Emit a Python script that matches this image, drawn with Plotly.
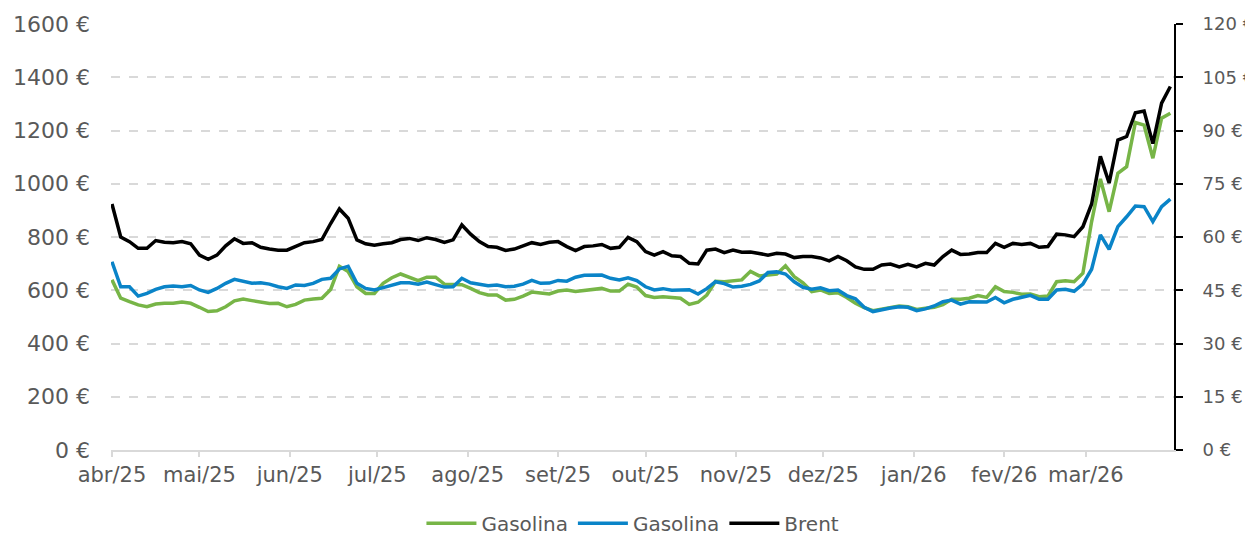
import pandas as pd
import plotly.graph_objects as go

# x categories: sampled dates (every 3 days from 1 Apr 2025)
dates = pd.date_range("2025-04-01", periods=122, freq="3D")

month_ticks = ["2025-04-01", "2025-05-01", "2025-06-01", "2025-07-01", "2025-08-01",
               "2025-09-01", "2025-10-01", "2025-11-01", "2025-12-01", "2026-01-01",
               "2026-02-01", "2026-03-01"]
month_labels = ["abr/25", "mai/25", "jun/25", "jul/25", "ago/25", "set/25", "out/25",
                "nov/25", "dez/25", "jan/26", "fev/26", "mar/26"]

gasolina_green = [
    639, 570, 557, 545, 538, 548, 551, 551, 556, 551,
    536, 520, 523, 538, 560, 567, 561, 555, 550, 551,
    538, 547, 563, 567, 570, 603, 690, 670, 613, 588,
    588, 626, 647, 661, 649, 636, 649, 649, 623, 623,
    621, 607, 591, 582, 582, 563, 566, 578, 593, 590,
    586, 597, 601, 595, 598, 601, 607, 597, 597, 623,
    612, 580, 573, 576, 573, 570, 547, 555, 582, 634,
    632, 636, 639, 671, 654, 657, 661, 692, 651, 628,
    595, 601, 588, 591, 573, 551, 535, 523, 528, 536,
    541, 538, 528, 532, 536, 546, 566, 566, 570, 580,
    573, 613, 595, 592, 585, 586, 576, 578, 632, 636,
    632, 664, 858, 1018, 895, 1039, 1064, 1230, 1220, 1096,
    1246, 1265]

gasolina_blue = [
    707, 613, 613, 578, 588, 603, 613, 616, 613, 618,
    601, 592, 607, 626, 641, 632, 626, 628, 623, 613,
    607, 620, 618, 626, 641, 645, 680, 690, 626, 607,
    601, 610, 620, 628, 628, 623, 631, 622, 612, 613,
    645, 628, 621, 617, 620, 613, 615, 623, 637, 626,
    627, 637, 634, 649, 656, 656, 657, 645, 639, 647,
    636, 613, 601, 606, 600, 601, 602, 586, 606, 632,
    625, 612, 615, 622, 635, 667, 669, 661, 632, 611,
    604, 609, 598, 601, 580, 568, 536, 520, 528, 533,
    538, 536, 523, 530, 541, 557, 563, 548, 557, 558,
    556, 573, 553, 566, 573, 581, 566, 566, 601, 604,
    596, 623, 679, 808, 754, 839, 876, 916, 914, 858,
    914, 942]

brent = [
    69.3, 60.0, 58.7, 56.8, 56.8, 59.0, 58.5, 58.4, 58.7, 58.1,
    54.9, 53.7, 54.9, 57.5, 59.5, 58.2, 58.4, 57.1, 56.6, 56.3,
    56.3, 57.3, 58.4, 58.7, 59.3, 63.8, 67.9, 65.3, 59.2, 58.1,
    57.7, 58.1, 58.4, 59.3, 59.6, 59.0, 59.8, 59.3, 58.5, 59.2,
    63.4, 60.8, 58.7, 57.3, 57.1, 56.2, 56.6, 57.5, 58.4, 57.9,
    58.5, 58.7, 57.3, 56.2, 57.3, 57.5, 57.9, 56.8, 57.1, 59.9,
    58.7, 55.9, 54.9, 55.9, 54.7, 54.5, 52.6, 52.4, 56.3, 56.6,
    55.6, 56.3, 55.7, 55.8, 55.4, 54.9, 55.4, 55.2, 54.2, 54.5,
    54.5, 54.1, 53.3, 54.5, 53.3, 51.6, 50.9, 50.9, 52.1, 52.4,
    51.6, 52.3, 51.6, 52.6, 52.1, 54.5, 56.3, 55.1, 55.2, 55.6,
    55.6, 58.2, 57.1, 58.2, 57.9, 58.2, 57.1, 57.3, 60.8, 60.6,
    60.1, 62.9, 69.3, 82.7, 75.2, 87.3, 88.3, 95.0, 95.5, 86.3,
    97.7, 102.4]

series_names = ["Gasolina", "Gasolina", "Brent"]
left_ticks = list(range(0, 1601, 200))
right_ticks = list(range(0, 121, 15))

FONT = "DejaVu Sans"
GREY = "#595959"

fig = go.Figure()
fig.add_trace(go.Scatter(x=dates, y=gasolina_green, name=series_names[0], mode="lines",
                         line=dict(color="#77b547", width=3.5)))
fig.add_trace(go.Scatter(x=dates, y=gasolina_blue, name=series_names[1], mode="lines",
                         line=dict(color="#0a84c8", width=3.5)))
fig.add_trace(go.Scatter(x=dates, y=brent, name=series_names[2], mode="lines", yaxis="y2",
                         line=dict(color="#000000", width=3.5)))

# the page body adds an 8 px offset; size the figure to fill the rest of the window
fig.update_layout(
    width=1245, height=529,
    margin=dict(l=103, r=79, t=16, b=87, autoexpand=False),
    paper_bgcolor="white", plot_bgcolor="white",
    font=dict(family=FONT, size=21, color=GREY),
    showlegend=True,
    legend=dict(orientation="h", x=0.491, xanchor="center", y=-0.172, yanchor="middle",
                font=dict(size=20, color=GREY), itemwidth=50, tracegroupgap=0),
    xaxis=dict(
        type="date", automargin=False,
        range=["2025-03-31 16:00", "2026-03-31 06:00"],
        tickmode="array", tickvals=month_ticks, ticktext=month_labels,
        showgrid=False, showline=True, linecolor="#d9d9d9", linewidth=1.5,
        ticks="outside", ticklen=5, tickcolor="#d9d9d9", tickwidth=1.5,
        tickfont=dict(size=21, color=GREY), zeroline=False,
    ),
    yaxis=dict(
        range=[0, 1600], tickmode="array", tickvals=left_ticks, automargin=False,
        ticktext=[f"{v} €" for v in left_ticks],
        showgrid=True, gridcolor="#d9d9d9", griddash="dash", gridwidth=1.5,
        zeroline=False, showline=False, ticks="", ticklabelstandoff=20,
        tickfont=dict(size=22, color=GREY),
    ),
    yaxis2=dict(
        range=[0, 120], overlaying="y", side="right", tickmode="array", automargin=False,
        tickvals=right_ticks, ticktext=[f"{v} €" for v in right_ticks],
        showgrid=False, zeroline=False, showline=True, linecolor="#000000", linewidth=2,
        ticks="outside", ticklen=7, tickcolor="#000000", tickwidth=2,
        ticklabelstandoff=16, tickfont=dict(size=18, color=GREY),
    ),
)

fig.write_html("out.html")
